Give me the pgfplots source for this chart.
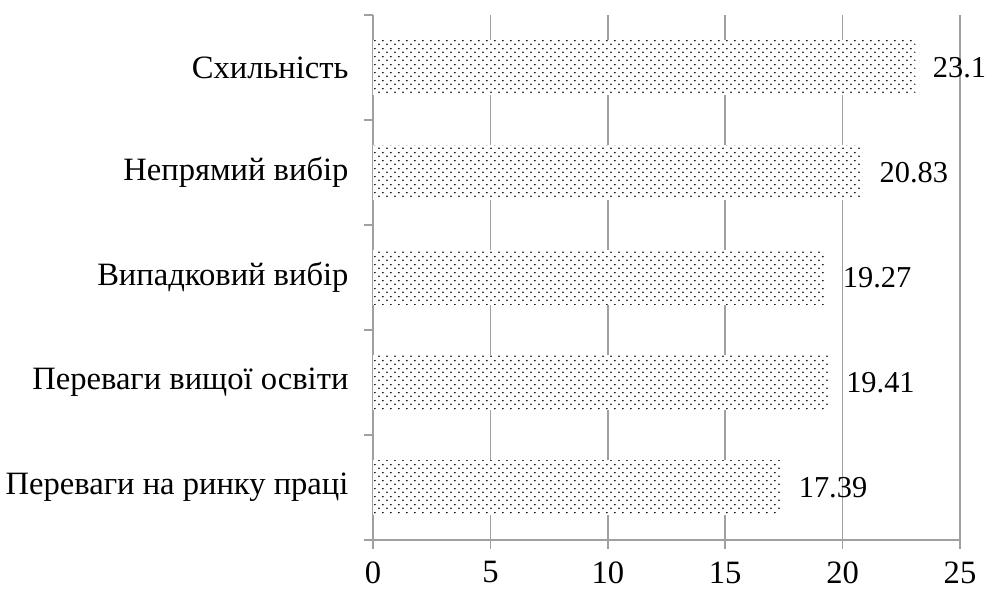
\documentclass[border=0pt]{standalone}
\usepackage{pgfplots}
\pgfplotsset{compat=1.18}
\usepackage{fontspec}
\setmainfont{Liberation Serif}
\usetikzlibrary{patterns}
\pgfdeclarepatternformonly{mydots}{\pgfqpoint{0bp}{0bp}}{\pgfqpoint{8.4bp}{8bp}}{\pgfqpoint{8.4bp}{8bp}}{%
  \pgfpathcircle{\pgfqpoint{2.1bp}{2bp}}{1bp}%
  \pgfpathcircle{\pgfqpoint{6.3bp}{6bp}}{1bp}%
  \pgfusepath{fill}}
\definecolor{axgray}{HTML}{A0A0A0}
\begin{document}
\begin{tikzpicture}
\path[use as bounding box] (0,0) rectangle (987bp,590bp);
\begin{axis}[
  at={(373bp,50bp)}, anchor=south west,
  scale only axis, width=587bp, height=525bp,
  xbar, bar width=0.52,
  xmin=0, xmax=25, ymin=0.5, ymax=5.5,
  xtick={0,5,...,25},
  ytick={0.5,1.5,...,5.5},
  yticklabels={},
  extra y ticks={1,2,3,4,5},
  extra y tick labels={Переваги на ринку праці,Переваги вищої освіти,Випадковий вибір,Непрямий вибір,Схильність},
  extra y tick style={major tick length=0pt, tick style={draw=none}, grid=none},
  axis x line*=bottom, axis y line*=left,
  axis line style={axgray, line width=1.6bp},
  xmajorgrids, grid style={axgray, line width=1.6bp},
  tick align=outside,
  major tick length=8.5bp,
  tick style={axgray, line width=1.6bp},
  /pgf/number format/assume math mode=true,
  ticklabel style={font=\fontsize{32.7}{39}\selectfont, text=black},
  yticklabel style={xshift=-21bp},
  xticklabel style={inner sep=0pt, outer sep=0pt, yshift=-13bp},
  nodes near coords,
  nodes near coords style={font=\fontsize{30.5}{36}\selectfont, anchor=west, xshift=14bp, /pgf/number format/assume math mode=true},
  point meta=explicit symbolic,
]
\addplot[draw=none, fill=white, postaction={pattern=mydots}] coordinates {
  (17.39,1) [17.39]
  (19.41,2) [19.41]
  (19.27,3) [19.27]
  (20.83,4) [20.83]
  (23.1,5) [23.1]
};
\end{axis}
\end{tikzpicture}
\end{document}
